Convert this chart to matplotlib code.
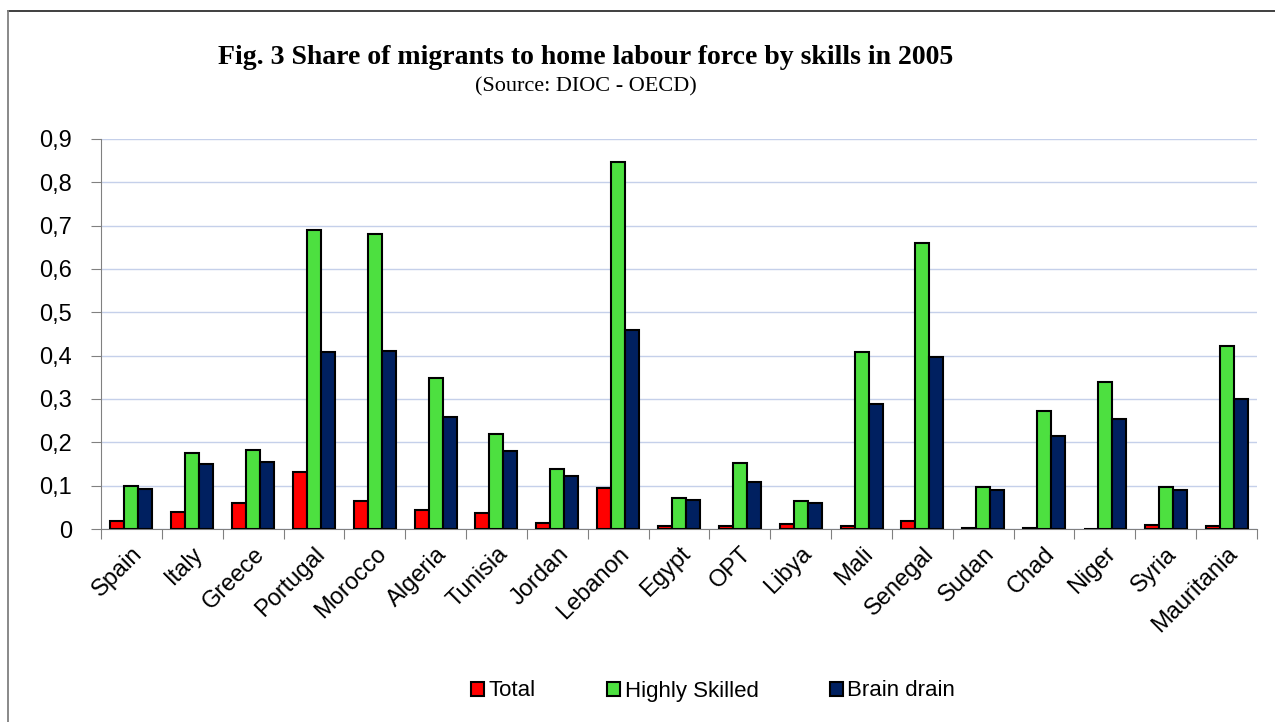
import numpy as np
import matplotlib
matplotlib.use('Agg')
import matplotlib.pyplot as plt
from matplotlib.lines import Line2D
from matplotlib.ticker import FuncFormatter, FixedLocator

countries = ['Spain', 'Italy', 'Greece', 'Portugal', 'Morocco', 'Algeria', 'Tunisia',
             'Jordan', 'Lebanon', 'Egypt', 'OPT', 'Libya', 'Mali', 'Senegal', 'Sudan',
             'Chad', 'Niger', 'Syria', 'Mauritania']
total = [0.018, 0.040, 0.060, 0.132, 0.064, 0.045, 0.038, 0.015, 0.094, 0.006,
         0.006, 0.012, 0.006, 0.019, 0.003, 0.002, 0.001, 0.009, 0.007]
highly_skilled = [0.100, 0.176, 0.182, 0.689, 0.680, 0.348, 0.220, 0.139, 0.848, 0.072,
                  0.152, 0.065, 0.408, 0.660, 0.098, 0.272, 0.340, 0.098, 0.423]
brain_drain = [0.092, 0.150, 0.155, 0.408, 0.410, 0.259, 0.180, 0.122, 0.459, 0.068,
               0.108, 0.060, 0.289, 0.397, 0.090, 0.215, 0.254, 0.090, 0.299]

series = [('Total', total, '#ff0000'),
          ('Highly Skilled', highly_skilled, '#4de040'),
          ('Brain drain', brain_drain, '#002060')]


def main():
    fig = plt.figure(figsize=(12.75, 7.22), dpi=100)
    ax = fig.add_axes([101 / 1275, 1 - 529 / 722, 1156 / 1275, 390 / 722])

    x = np.arange(len(countries))
    w = 0.23
    for i, (name, vals, col) in enumerate(series):
        ax.bar(x + (i - 1) * w, vals, w, color=col, edgecolor='black',
               linewidth=1.5, label=name, zorder=3)

    ax.set_xlim(-0.5, len(countries) - 0.5)
    ax.set_ylim(0, 0.9)
    ax.set_yticks(np.arange(0, 0.91, 0.1))
    ax.yaxis.set_major_formatter(FuncFormatter(
        lambda v, p: '0' if abs(v) < 1e-9 else ('%.1f' % v).replace('.', ',')))
    ax.grid(axis='y', color='#c5d0ea', linewidth=1.0, zorder=0)

    # ticks at category boundaries, labels at centres
    ax.xaxis.set_major_locator(FixedLocator(np.arange(-0.5, len(countries), 1.0)))
    ax.xaxis.set_minor_locator(FixedLocator(x))
    ax.set_xticklabels([], minor=False)
    ax.set_xticklabels(countries, minor=True, rotation=45, ha='right',
                       rotation_mode='anchor', fontsize=17)
    ax.tick_params(axis='x', which='major', length=7, color='#808080', direction='out')
    ax.tick_params(axis='x', which='minor', length=0, pad=10)
    ax.tick_params(axis='y', length=7, color='#808080', labelsize=17, pad=14)

    for s in ['top', 'right']:
        ax.spines[s].set_visible(False)
    ax.spines['left'].set_color('#808080')
    ax.spines['bottom'].set_color('#808080')

    fig.text(586 / 1275, 1 - 57 / 722, 'Fig. 3 Share of migrants to home labour force by skills in 2005',
             family='Liberation Serif', fontweight='bold', fontsize=20, ha='center', va='center')
    fig.text(586 / 1275, 1 - 87 / 722, '(Source: DIOC - OECD)',
             family='Liberation Serif', fontsize=16, ha='center', va='center')

    fig.legend(loc='center', bbox_to_anchor=(713 / 1275, 1 - 691 / 722), ncol=3,
               frameon=False, fontsize=16, handlelength=0.6, handleheight=0.6,
               handletextpad=0.2, columnspacing=3.2)

    # chart-area border (top and left only visible)
    fig.add_artist(Line2D([8 / 1275, 1], [1 - 11 / 722, 1 - 11 / 722],
                          transform=fig.transFigure, color='#303030', linewidth=1.3))
    fig.add_artist(Line2D([8 / 1275, 8 / 1275], [0, 1 - 11 / 722],
                          transform=fig.transFigure, color='#808080', linewidth=1.3))

    fig.savefig('out.png', dpi=100)


if __name__ == '__main__':
    plt.rcParams['font.family'] = ['Liberation Sans', 'DejaVu Sans']
    main()
